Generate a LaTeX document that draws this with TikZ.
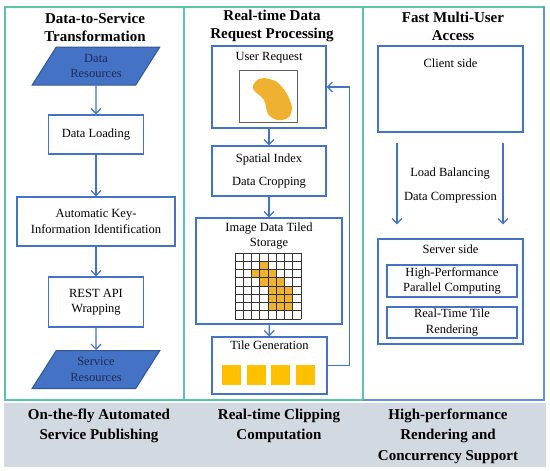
\documentclass[tikz,border=0pt]{standalone}
\usepackage{fontspec}
\setmainfont{Liberation Serif}
\usetikzlibrary{arrows.meta,positioning,shapes.geometric}
\definecolor{flow}{HTML}{4472C4}
\definecolor{navy}{HTML}{1F2A5C}
\definecolor{frame}{HTML}{5EC3AE}
\definecolor{band}{HTML}{D3D9E0}
\definecolor{ochre}{HTML}{EEB230}
\definecolor{gold}{HTML}{FFC000}
\definecolor{grey}{HTML}{606060}

\begin{document}
\begin{tikzpicture}[x=1pt,y=-1pt,
  box/.style={draw=flow,line width=1.3pt,fill=white,align=center,inner sep=2pt,
              font=\fontsize{12.5}{15.5}\selectfont},
  io/.style={trapezium,trapezium left angle=60,trapezium right angle=120,
             trapezium stretches=true,draw=flow!75!black,fill=flow,line width=1pt,
             minimum width=128pt,minimum height=38pt,align=center,text=navy,
             font=\fontsize{12.5}{15.5}\selectfont},
  txt/.style={align=center,inner sep=0pt,font=\fontsize{12.5}{15.5}\selectfont},
  head/.style={align=center,inner sep=0pt,font=\fontsize{15}{18}\selectfont\bfseries},
  foot/.style={align=center,inner sep=0pt,font=\fontsize{15}{20.5}\selectfont\bfseries},
  cell/.style={draw=black!80,line width=0.6pt},
  ar/.style={-{Straight Barb[length=5pt,width=10pt]},line width=1.2pt,draw=flow}]
\useasboundingbox (0,0) rectangle (550,471);

% panels and footer band
\draw[line width=1.4pt,draw=frame] (5,7) rectangle (184,400);
\draw[line width=1.4pt,draw=frame] (184,7) rectangle (363,400);
\draw[line width=1.4pt,draw=frame] (363,7) rectangle (544,400);
\draw[line width=1.4pt,draw=flow!80] (544,7) -- (544,400) -- (363,400);
\fill[band] (4,403) rectangle (546,467);

\node[head] (hA) at (95,27) {Data-to-Service\\Transformation};
\node[head] (hB) at (272,26) {Real-time Data\\Request Processing};
\node[head] (hC) at (453,26) {Fast Multi-User\\Access};

\node[foot] (fA) at (99,426) {On-the-fly Automated\\Service Publishing};
\node[foot] (fB) at (279,426) {Real-time Clipping\\Computation};
\node[foot] (fC) at (448,436) {High-performance\\Rendering and\\Concurrency Support};

% data-to-service
\node[io] (dres) at (96,66) {Data\\Resources};
\node[box,minimum width=95pt,minimum height=39pt] (load) at (96,134.5) {Data Loading};
\node[box,minimum width=158pt,minimum height=49pt] (aki) at (96,221.5) {Automatic Key-\\Information Identification};
\node[box,minimum width=95pt,minimum height=50pt] (rest) at (96,302) {REST API\\Wrapping};
\node[io] (sres) at (96,369.5) {Service\\Resources};
\draw[ar] (dres) -- (load);
\draw[ar] (load) -- (aki);
\draw[ar] (aki) -- (rest);
\draw[ar] (rest) -- (sres);

% request processing
\node[box,minimum width=114pt,minimum height=82pt] (user) at (269,87) {};
\node[txt,below=7pt of user.north] (usertxt) {User Request};
\node[draw=grey,line width=1pt,minimum width=58pt,minimum height=52pt] (pic) at (268,96) {};
\fill[ochre] plot[smooth cycle] coordinates {(253,89) (256,81) (264,78) (277,82) (287,94)
  (292,108) (288,118) (277,120) (268,114) (264,100)};

\node[box,minimum width=114pt,minimum height=50pt] (spat) at (269,171) {Spatial Index\\[8pt]Data Cropping};

\node[box,minimum width=146pt,minimum height=106pt] (store) at (269,271) {};
\node[txt,below=5pt of store.north] (storetxt) {Image Data Tiled\\Storage};
\foreach \r/\c in {1/3,2/2,2/3,2/4,3/3,3/4,3/5,4/4,4/5,4/6,5/4,5/5,5/6,6/4,6/5,6/6}
  \fill[ochre] (235+8.25*\c,253+8.25*\r) rectangle ++(8.25,8.25);
\foreach \i in {0,...,8} {
  \draw[cell] (235+8.25*\i,253) -- ++(0,66);
  \draw[cell] (235,253+8.25*\i) -- ++(66,0);
}

\node[box,minimum width=115pt,minimum height=57pt] (tile) at (269.5,365.5) {};
\node[txt,below=4pt of tile.north] (tiletxt) {Tile Generation};
\foreach \k in {0,...,3}
  \fill[gold] (222+24.7*\k,365) rectangle ++(19,20);

\draw[ar] (user) -- (spat);
\draw[ar] (spat) -- (store);
\draw[ar] (store) -- (tile);
\draw[ar] (tile.east) -- ++(22,0) |- (user.east);

% multi-user access
\node[box,minimum width=145pt,minimum height=86pt] (client) at (450.5,89) {};
\node[txt,below=13pt of client.north] (clienttxt) {Client side};
\node[box,minimum width=145pt,minimum height=105pt] (server) at (450.5,291.5) {};
\node[txt,below=6pt of server.north] (servertxt) {Server side};
\node[box,minimum width=130pt,minimum height=32pt] (hpc) at (452,281) {High-Performance\\Parallel Computing};
\node[box,minimum width=130pt,minimum height=31pt] (rtr) at (452,322.5) {Real-Time Tile\\Rendering};
\draw[ar] ([xshift=-53.5pt,yshift=-10pt]client.south) -- ([xshift=-53.5pt,yshift=14pt]server.north);
\draw[ar] ([xshift=52.5pt,yshift=-10pt]client.south) -- ([xshift=52.5pt,yshift=14pt]server.north);
\node[txt] (lb) at (450,174) {Load Balancing};
\node[txt] (dc) at (450.5,198) {Data Compression};
\end{tikzpicture}
\end{document}
